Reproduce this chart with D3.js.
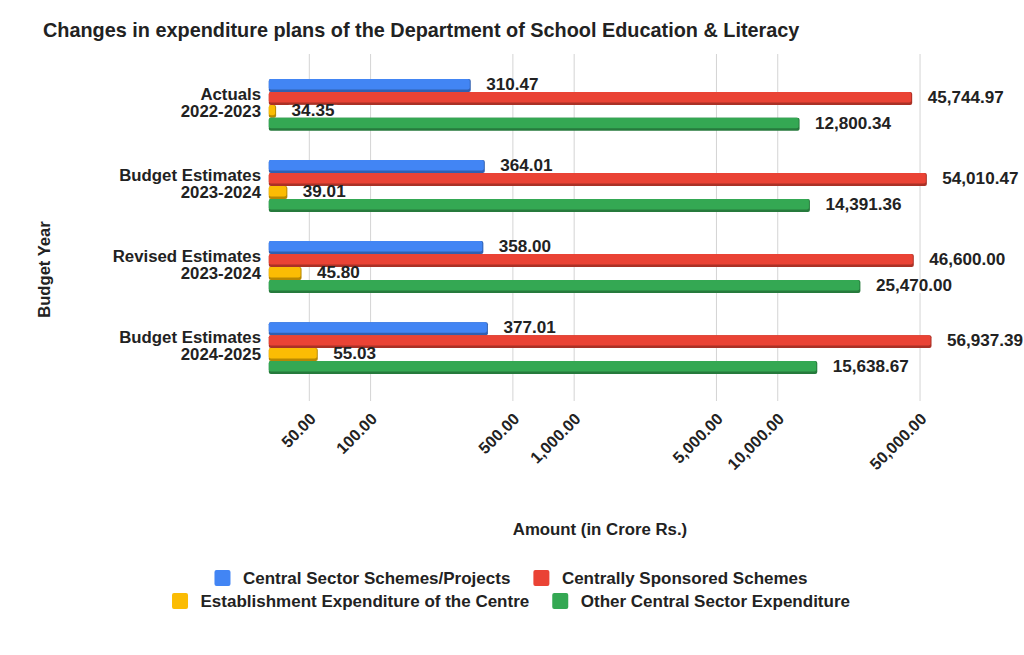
<!DOCTYPE html>
<html>
<head>
<meta charset="utf-8">
<script src="https://cdn.jsdelivr.net/npm/d3@7"></script>
<style>
  body { margin: 0; background: #fff; }
  svg { display: block; font-family: "Liberation Sans", Arial, sans-serif; }
</style>
</head>
<body>
<div id="chart"></div>
<script>
// expenditure plans chart, log x scale, grouped horizontal bars

const years = [
    ["Actuals", "2022-2023"],
    ["Budget Estimates", "2023-2024"],
    ["Revised Estimates", "2023-2024"],
    ["Budget Estimates", "2024-2025"]
];
const seriesNames = [
    "Central Sector Schemes/Projects",
    "Centrally Sponsored Schemes",
    "Establishment Expenditure of the Centre",
    "Other Central Sector Expenditure"
];
const centralSector = [310.47, 364.01, 358.00, 377.01];
const centrallySponsored = [45744.97, 54010.47, 46600.00, 56937.39];
const establishment = [34.35, 39.01, 45.80, 55.03];
const otherCentral = [12800.34, 14391.36, 25470.00, 15638.67];
const xTicks = [50, 100, 500, 1000, 5000, 10000, 50000];
const colors = ["#4285f4", "#ea4335", "#fbbc04", "#34a853"];

const allSeries = [centralSector, centrallySponsored, establishment, otherCentral];

const W = 1024, H = 655;
const plotTop = 54, plotBottom = 401;

const svg = d3.select("#chart").append("svg")
    .attr("width", W)
    .attr("height", H);

const x = d3.scaleLog()
    .domain([Math.pow(10, 1.5), Math.pow(10, 4.8)])
    .range([268.8, 940.6]);

const y = d3.scaleBand()
    .domain(d3.range(years.length))
    .range([plotTop - 1, plotBottom - 1])
    .paddingInner(0.36)
    .paddingOuter(0.32);

const ySub = d3.scaleBand()
    .domain(d3.range(seriesNames.length))
    .range([0, y.bandwidth()]);

// title
svg.append("text")
    .attr("x", 43)
    .attr("y", 37)
    .attr("font-size", 19.85)
    .attr("font-weight", "bold")
    .attr("fill", "#222")
    .text("Changes in expenditure plans of the Department of School Education & Literacy");

// gridlines
svg.append("g")
    .selectAll("line")
    .data(xTicks)
    .enter().append("line")
    .attr("x1", d => x(d)).attr("x2", d => x(d))
    .attr("y1", plotTop).attr("y2", plotBottom)
    .attr("stroke", "#d4d4d4")
    .attr("stroke-width", 1);

// x tick labels
svg.append("g")
    .selectAll("text")
    .data(xTicks)
    .enter().append("text")
    .attr("transform", d => `translate(${x(d) + 7.5},420) rotate(-45)`)
    .attr("text-anchor", "end")
    .attr("font-size", 16.2)
    .attr("font-weight", "bold")
    .attr("fill", "#222")
    .text(d => d3.format(",.2f")(d));

// bars
const rows = [];
years.forEach((yr, i) => {
    allSeries.forEach((s, j) => rows.push({ cat: i, ser: j, value: s[i] }));
});

const barH = ySub.bandwidth();
const barGrp = svg.append("g")
    .selectAll("g")
    .data(rows)
    .enter().append("g")
    .attr("transform", d => `translate(0,${y(d.cat) + ySub(d.ser)})`);

barGrp.append("rect")
    .attr("x", x.range()[0])
    .attr("y", 0)
    .attr("width", d => x(d.value) - x.range()[0])
    .attr("height", barH)
    .attr("rx", 2)
    .attr("fill", d => d3.color(colors[d.ser]).darker(0.9));

barGrp.append("rect")
    .attr("x", x.range()[0])
    .attr("y", 0)
    .attr("width", d => Math.max(0, x(d.value) - x.range()[0] - 1))
    .attr("height", barH - 2.5)
    .attr("rx", 2)
    .attr("fill", d => colors[d.ser]);

// value labels with white backing
const labels = barGrp.append("g")
    .attr("transform", d => `translate(${x(d.value) + 15.5},${barH / 2 - 2})`);

labels.append("rect")
    .attr("class", "bg")
    .attr("fill", "#fff");

labels.append("text")
    .attr("dy", "0.36em")
    .attr("font-size", 17.1)
    .attr("font-weight", "bold")
    .attr("fill", "#222")
    .text(d => d3.format(",.2f")(d.value));

labels.each(function () {
    const g = d3.select(this);
    const w = g.select("text").node().getComputedTextLength();
    g.select("rect.bg")
        .attr("x", -3).attr("y", -barH / 2 + 2)
        .attr("width", w + 6).attr("height", barH);
});

// category labels
const catLabels = svg.append("g")
    .selectAll("text")
    .data(years)
    .enter().append("text")
    .attr("text-anchor", "end")
    .attr("font-size", 16.8)
    .attr("font-weight", "bold")
    .attr("fill", "#222");

catLabels.each(function (d, i) {
    const c = y(i) + y.bandwidth() / 2;
    d3.select(this).selectAll("tspan")
        .data(d)
        .enter().append("tspan")
        .attr("x", 261)
        .attr("y", (t, k) => c - 4.8 + k * 17.1)
        .text(t => t);
});

// axis titles
svg.append("text")
    .attr("x", 600)
    .attr("y", 535)
    .attr("text-anchor", "middle")
    .attr("font-size", 16.8)
    .attr("font-weight", "bold")
    .attr("fill", "#222")
    .text("Amount (in Crore Rs.)");

svg.append("text")
    .attr("transform", "translate(50,269.5) rotate(-90)")
    .attr("text-anchor", "middle")
    .attr("font-size", 16.6)
    .attr("font-weight", "bold")
    .attr("fill", "#222")
    .text("Budget Year");

// legend, two centred rows
const legendRows = [[0, 1], [2, 3]];
const legendY = [578, 601];
const legendCx = 511;
const sw = 16, swGap = 12.5, itemGap = 23;

legendRows.forEach((items, r) => {
    const row = svg.append("g");
    const groups = row.selectAll("g")
        .data(items)
        .enter().append("g");
    groups.append("rect")
        .attr("width", sw).attr("height", sw)
        .attr("y", -sw / 2)
        .attr("rx", 2)
        .attr("fill", d => colors[d]);
    groups.append("text")
        .attr("x", sw + swGap)
        .attr("dy", "0.36em")
        .attr("font-size", 17)
        .attr("font-weight", "bold")
        .attr("fill", "#222")
        .text(d => seriesNames[d]);
    const widths = [];
    groups.each(function () {
        widths.push(sw + swGap + d3.select(this).select("text").node().getComputedTextLength());
    });
    const total = d3.sum(widths) + itemGap * (widths.length - 1);
    let cur = legendCx - total / 2;
    groups.attr("transform", (d, k) => {
        const t = `translate(${cur},${legendY[r]})`;
        cur += widths[k] + itemGap;
        return t;
    });
});
</script>
</body>
</html>
